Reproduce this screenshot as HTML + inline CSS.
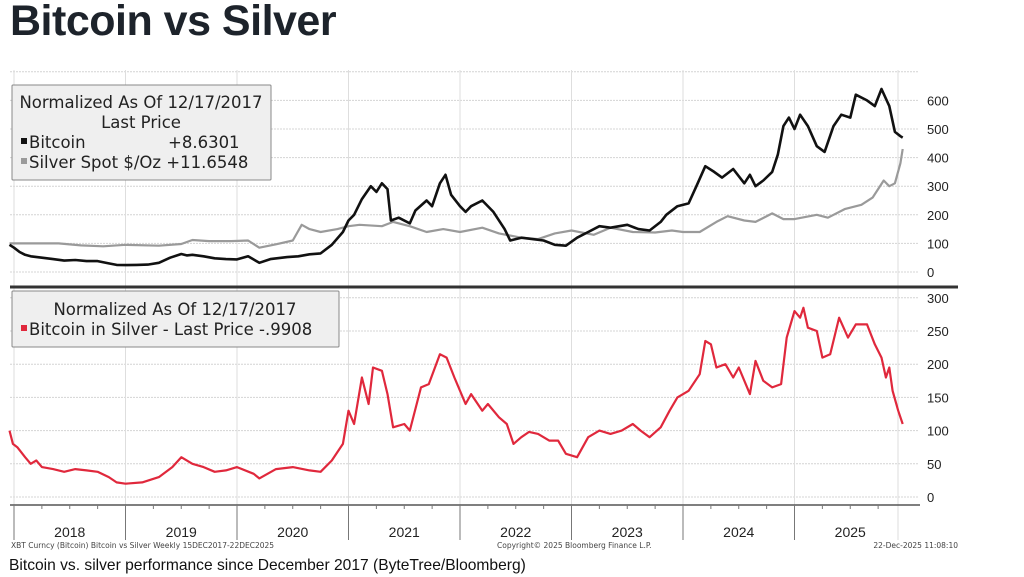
<!DOCTYPE html>
<html><head><meta charset="utf-8">
<style>
body{margin:0;background:#fff;width:1024px;height:577px;overflow:hidden;font-family:"Liberation Sans",sans-serif;}
#title{position:absolute;left:10px;top:-3px;font-size:43px;font-weight:bold;color:#1d232b;letter-spacing:-0.5px;}
#caption{position:absolute;left:9px;top:557px;font-size:15.6px;color:#111;}
svg{position:absolute;left:0;top:0;}
</style></head><body>
<div id="title">Bitcoin vs Silver</div>
<div id="caption">Bitcoin vs. silver performance since December 2017 (ByteTree/Bloomberg)</div>
<svg id="chart" width="1024" height="577"></svg>
<script>
const btcDates=[2017.96,2018.0,2018.05,2018.1,2018.15,2018.25,2018.35,2018.45,2018.55,2018.65,2018.75,2018.85,2018.92,2019.0,2019.1,2019.2,2019.3,2019.4,2019.5,2019.55,2019.6,2019.7,2019.8,2019.9,2020.0,2020.1,2020.2,2020.3,2020.45,2020.55,2020.65,2020.75,2020.85,2020.95,2021.0,2021.05,2021.12,2021.2,2021.25,2021.3,2021.35,2021.38,2021.45,2021.55,2021.6,2021.7,2021.75,2021.82,2021.87,2021.92,2022.0,2022.05,2022.1,2022.2,2022.3,2022.4,2022.45,2022.55,2022.65,2022.75,2022.85,2022.95,2023.05,2023.15,2023.25,2023.35,2023.5,2023.6,2023.7,2023.8,2023.85,2023.95,2024.05,2024.12,2024.2,2024.28,2024.35,2024.45,2024.55,2024.6,2024.65,2024.72,2024.8,2024.85,2024.9,2024.95,2025.0,2025.05,2025.12,2025.2,2025.27,2025.35,2025.42,2025.5,2025.55,2025.65,2025.72,2025.78,2025.85,2025.9,2025.95,2025.97];
const btcValues=[95,85,70,60,55,50,45,40,42,38,38,30,25,24,25,26,32,50,63,58,60,55,48,45,44,55,32,45,52,55,62,65,95,140,180,200,255,300,280,310,290,180,190,170,215,250,230,310,340,270,230,210,230,250,210,150,110,120,115,110,95,92,120,140,160,155,165,150,145,175,200,230,240,300,370,350,330,360,310,340,300,320,350,410,510,540,500,550,510,440,420,510,550,540,620,600,580,640,580,490,475,470];
const silverDates=[2017.96,2018.2,2018.4,2018.6,2018.8,2019.0,2019.3,2019.5,2019.6,2019.75,2019.95,2020.1,2020.2,2020.35,2020.5,2020.58,2020.65,2020.75,2020.9,2021.0,2021.1,2021.3,2021.4,2021.55,2021.7,2021.85,2022.0,2022.2,2022.35,2022.55,2022.7,2022.85,2023.0,2023.2,2023.35,2023.55,2023.75,2023.9,2024.0,2024.15,2024.3,2024.4,2024.55,2024.65,2024.8,2024.9,2025.0,2025.2,2025.3,2025.45,2025.6,2025.7,2025.8,2025.85,2025.9,2025.95,2025.97];
const silverValues=[100,100,100,93,90,95,92,98,112,108,108,110,85,97,110,165,150,140,150,160,165,160,175,160,140,150,140,155,135,120,115,135,145,130,155,140,138,145,140,140,175,195,180,175,205,185,185,200,190,220,235,260,320,300,310,380,430];
const ratioDates=[2017.96,2017.99,2018.03,2018.1,2018.15,2018.2,2018.25,2018.35,2018.45,2018.55,2018.65,2018.75,2018.85,2018.92,2019.0,2019.15,2019.3,2019.42,2019.5,2019.6,2019.7,2019.8,2019.9,2020.0,2020.15,2020.2,2020.35,2020.5,2020.65,2020.75,2020.85,2020.95,2021.0,2021.05,2021.12,2021.18,2021.22,2021.3,2021.35,2021.4,2021.5,2021.55,2021.65,2021.72,2021.82,2021.88,2021.95,2022.05,2022.1,2022.2,2022.25,2022.35,2022.42,2022.48,2022.55,2022.62,2022.7,2022.8,2022.88,2022.95,2023.05,2023.15,2023.25,2023.35,2023.45,2023.55,2023.62,2023.7,2023.8,2023.88,2023.95,2024.05,2024.15,2024.2,2024.25,2024.3,2024.38,2024.45,2024.5,2024.6,2024.65,2024.72,2024.8,2024.88,2024.93,2025.0,2025.05,2025.08,2025.12,2025.2,2025.25,2025.32,2025.4,2025.48,2025.55,2025.65,2025.72,2025.78,2025.82,2025.85,2025.88,2025.93,2025.97];
const ratioValues=[100,80,75,60,50,55,45,42,38,42,40,38,30,22,20,22,30,45,60,50,45,38,40,45,35,28,42,45,40,38,55,80,130,110,180,140,195,190,155,105,110,100,165,170,215,210,180,140,155,130,140,120,110,80,90,98,95,85,85,65,60,90,100,95,100,110,100,90,105,130,150,160,185,235,230,195,200,180,195,155,205,175,165,170,240,280,270,285,255,250,210,215,270,240,260,260,230,210,180,195,160,130,110];
const topTicks=[0,100,200,300,400,500,600];
const botTicks=[0,50,100,150,200,250,300];
const yearLabels=["2018","2019","2020","2021","2022","2023","2024","2025"];

const NS="http://www.w3.org/2000/svg";
const svg=document.getElementById('chart');
function X(t){return 14+(t-2018)*111.5;}
function YT(v){return 272-v*0.286;}
function YB(v){return 497-v*0.664;}
function mk(tag,attrs,parent){const e=document.createElementNS(NS,tag);for(const k in attrs)e.setAttribute(k,attrs[k]);(parent||svg).appendChild(e);return e;}
for(const v of [...topTicks,700]){const l=mk('line',{x1:10,x2:918,y1:YT(v),y2:YT(v),stroke:'#d4d4d4','stroke-dasharray':'2,1'});

}
for(const v of botTicks){const l=mk('line',{x1:10,x2:918,y1:YB(v),y2:YB(v),stroke:'#d4d4d4','stroke-dasharray':'2,1'});

}
for(let i=0;i<=8;i++){const x=X(2018+i)-(i==8?8:0);const l=mk('line',{x1:x,x2:x,y1:70,y2:540,stroke:'#dedede'});

}
const sep=mk('line',{x1:10,x2:958,y1:287,y2:287,stroke:'#333','stroke-width':3});


const ax=mk('line',{x1:10,x2:920,y1:505,y2:505,stroke:'#555','stroke-width':1.5});


for(let i=0;i<32;i++){const x=X(2018+i/4);const t=mk('line',{x1:x,x2:x,y1:505,y2:(i%4==0?540:509),stroke:'#777'});

}
yearLabels.forEach((y,i)=>{const t=mk('text',{x:X(2018+i+0.5),y:537,'text-anchor':'middle','font-size':14,fill:'#222','font-family':'Liberation Sans, sans-serif'});t.textContent=y;

});
topTicks.forEach(v=>{const t=mk('text',{x:927,y:YT(v)+5,'font-size':13,fill:'#222','font-family':'Liberation Sans, sans-serif'});t.textContent=v;

});
botTicks.forEach(v=>{const t=mk('text',{x:927,y:YB(v)+5,'font-size':13,fill:'#222','font-family':'Liberation Sans, sans-serif'});t.textContent=v;

});
function line(d,v,yf,color,w){const p=d.map((t,i)=>(i?'L':'M')+X(t).toFixed(1)+','+yf(v[i]).toFixed(1)).join('');return mk('path',{d:p,fill:'none',stroke:color,'stroke-width':w,'stroke-linejoin':'round'});}
const s1=line(silverDates,silverValues,YT,'#9a9a9a',2.2);


const s2=line(btcDates,btcValues,YT,'#111',2.6);


const s3=line(ratioDates,ratioValues,YB,'#e0283c',2.2);


function box(x,y,w,h,name){const r=mk('rect',{x:x,y:y,width:w,height:h,fill:'#efefef',stroke:'#888','stroke-width':1,rx:1});}
function txt(x,y,s,name,anchor){const t=mk('text',{x:x,y:y,'font-size':16.5,fill:'#222','font-family':'DejaVu Sans, sans-serif','text-anchor':anchor||'start'});t.textContent=s;return t;}
box(12,85,259,95,'top-legend');
txt(141,108,'Normalized As Of 12/17/2017','top-legend-title','middle');
txt(141,128,'Last Price','top-legend-subtitle','middle');
const m1=mk('rect',{x:21,y:138,width:6,height:6,fill:'#111'});
txt(29,148,'Bitcoin','bitcoin-legend-label');txt(168,148,'+8.6301','bitcoin-legend-value');
const m2=mk('rect',{x:21,y:158,width:6,height:6,fill:'#9a9a9a'});
txt(29,168,'Silver Spot $/Oz +11.6548','silver-legend-label');
box(12,291,327,56,'bottom-legend');
txt(175,315,'Normalized As Of 12/17/2017','bottom-legend-title','middle');
const m3=mk('rect',{x:21,y:325,width:6,height:6,fill:'#e0283c'});
txt(29,335,'Bitcoin in Silver - Last Price  -.9908','ratio-legend-label');
function foot(x,y,s,name,a){const t=mk('text',{x:x,y:y,'font-size':7.5,fill:'#444','font-family':'DejaVu Sans, sans-serif','text-anchor':a||'start'});t.textContent=s;}
foot(11,548,'XBT Curncy (Bitcoin) Bitcoin vs Silver Weekly 15DEC2017-22DEC2025','footer-source');
foot(497,548,'Copyright© 2025 Bloomberg Finance L.P.','footer-copyright');
foot(958,548,'22-Dec-2025 11:08:10','footer-timestamp','end');
</script>
</body></html>
